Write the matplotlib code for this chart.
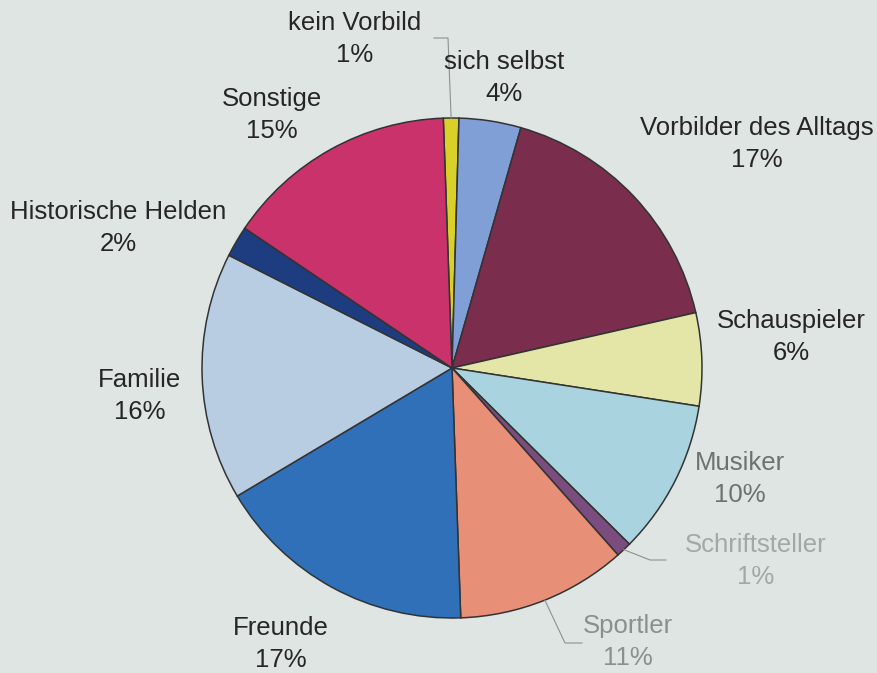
import numpy as np
import matplotlib.pyplot as plt

# Vorbilder - Anteile in Prozent (im Uhrzeigersinn ab 12 Uhr)
labels = ['kein Vorbild', 'sich selbst', 'Vorbilder des Alltags', 'Schauspieler',
          'Musiker', 'Schriftsteller', 'Sportler', 'Freunde', 'Familie',
          'Historische Helden', 'Sonstige']
werte = [1, 4, 17, 6, 10, 1, 11, 17, 16, 2, 15]
farben = ['#d9d12a', '#7f9fd6', '#7a2d4c', '#e3e6a6', '#a9d3df', '#7b4d7e',
          '#e88f78', '#2f70b8', '#b9cde2', '#1d3d80', '#c9326b']

# Textpositionen (Bildkoordinaten, Mitte des Textblocks) und Textfarbe
text_pos = [(355, 39), (504, 78), (757, 144), (791, 337), (740, 479), (756, 561),
            (628, 642), (281, 644), (140, 396), (118, 228), (272, 115)]
text_farbe = ['#262626'] * 4 + ['#6d7271', '#a2a8a7', '#8a908f'] + ['#262626'] * 4

H = 673
fig = plt.figure(figsize=(8.77, 6.73), dpi=100)
fig.patch.set_facecolor('#dfe5e3')
ax = fig.add_axes([0, 0, 1, 1])
ax.set_facecolor('#dfe5e3')

mitte = (452, H - 368)
radius = 250
wedges, _ = ax.pie(werte, colors=farben, startangle=92, counterclock=False,
                   center=mitte, radius=radius,
                   wedgeprops=dict(edgecolor='#333333', linewidth=1.1))

for lab, w, (x, y), c in zip(labels, werte, text_pos, text_farbe):
    ax.text(x, H - y, f'{lab}\n{w}%', ha='center', va='center', fontsize=18.5,
            family='Liberation Sans', color=c, linespacing=1.38)


def rand(w):
    a = np.deg2rad((w.theta1 + w.theta2) / 2)
    return mitte[0] + radius * np.cos(a), mitte[1] + radius * np.sin(a)


# Hinweislinien
knicke = {0: [(448, 38), (434, 38)], 5: [(650, 560), (666, 560)],
          6: [(565, 643), (582, 643)]}
for i, pts in knicke.items():
    x0, y0 = rand(wedges[i])
    xs = [x0] + [p[0] for p in pts]
    ys = [y0] + [H - p[1] for p in pts]
    ax.plot(xs, ys, color='#8c9291', linewidth=0.8)

ax.set_xlim(0, 877)
ax.set_ylim(0, H)
ax.set_aspect('equal')
ax.axis('off')
fig.savefig('out.png', dpi=100, facecolor=fig.get_facecolor())
